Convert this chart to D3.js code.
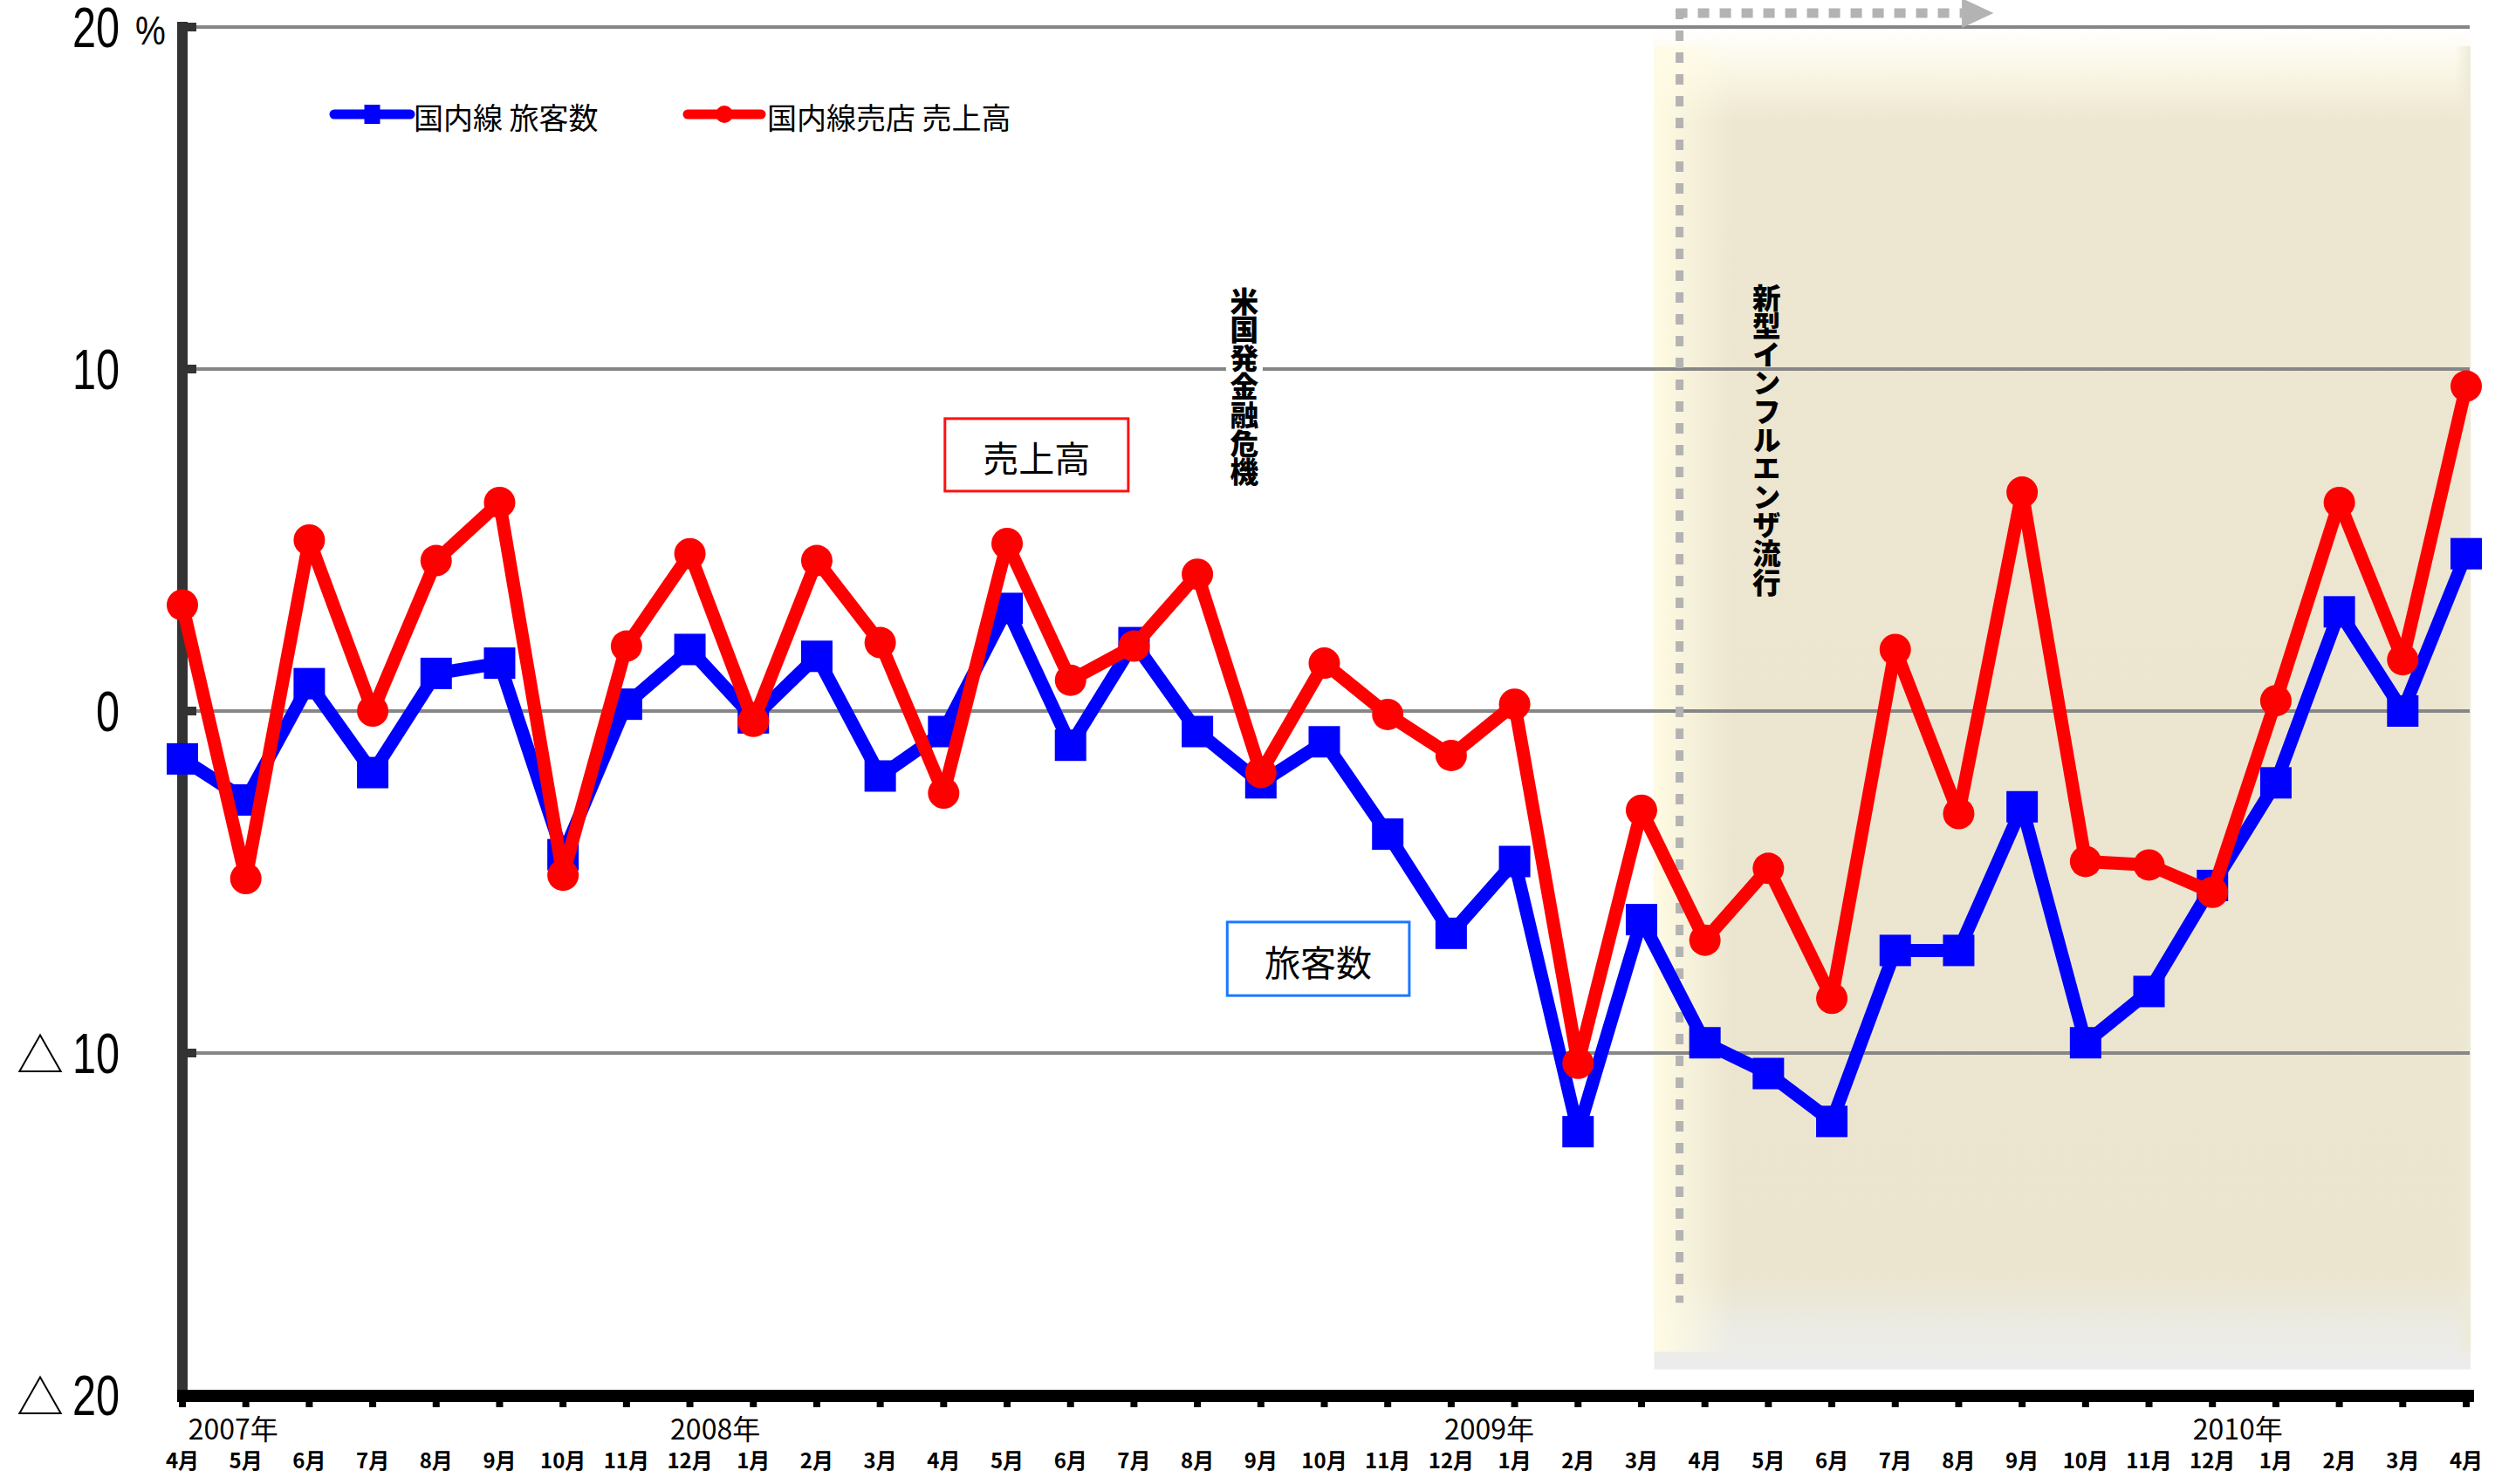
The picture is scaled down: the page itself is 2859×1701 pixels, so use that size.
<!DOCTYPE html>
<html lang="ja">
<head>
<meta charset="utf-8">
<script src="https://cdn.jsdelivr.net/npm/d3@7"></script>
<style>
  html, body { margin: 0; padding: 0; background: #ffffff; }
  svg { display: block; }
</style>
</head>
<body>
<svg id="chart" width="2859" height="1701"></svg>
<script>
// Month labels, April 2007 through April 2010
const months = [
  "4月","5月","6月","7月","8月","9月","10月","11月","12月",
  "1月","2月","3月","4月","5月","6月","7月","8月","9月","10月","11月","12月",
  "1月","2月","3月","4月","5月","6月","7月","8月","9月","10月","11月","12月",
  "1月","2月","3月","4月"
];

// Year-on-year change (%) : domestic passengers
const passengers = [
  -1.4, -2.6, 0.8, -1.8, 1.1, 1.4, -4.2, 0.2, 1.8,
  -0.2, 1.6, -1.9, -0.6, 3.0, -1.0, 2.0, -0.6, -2.1, -0.9, -3.6, -6.5,
  -4.4, -12.3, -6.1, -9.7, -10.6, -12.0, -7.0, -7.0, -2.8, -9.7, -8.2, -5.1,
  -2.1, 2.9, 0.0, 4.6
];

// Year-on-year change (%) : domestic shop sales
const sales = [
  3.1, -4.9, 5.0, 0.0, 4.4, 6.1, -4.8, 1.9, 4.6,
  -0.3, 4.4, 2.0, -2.4, 4.9, 0.9, 1.9, 4.0, -1.8, 1.4, -0.1, -1.3,
  0.2, -10.3, -2.9, -6.7, -4.6, -8.4, 1.8, -3.0, 6.4, -4.4, -4.5, -5.3,
  0.3, 6.1, 1.5, 9.5
];

const yTicks = [20, 10, 0, -10, -20];
const yTickLabels = ["20", "10", "0", "△10", "△20"];

const years = ["2007年", "2008年", "2009年", "2010年"];
const yearAt = [0.8, 8.4, 20.6, 32.4];   // month-index position of each year label

const seriesNames = ["国内線 旅客数", "国内線売店 売上高"];
const events = ["米国発金融危機", "新型インフルエンザ流行"];

const svg = d3.select("#chart");

const x = d3.scaleLinear().domain([0, months.length - 1]).range([209, 2826]);
const y = d3.scaleLinear().domain([-20, 20]).range([1599, 31]);

const BLUE = "#0000ff", RED = "#ff0000";
const numFont = "'Liberation Sans', Arial, sans-serif";
const jpFont = "'Noto Sans CJK JP', sans-serif";

// ---- shaded period (influenza) ----
const defs = svg.append("defs");
const vg = defs.append("linearGradient").attr("id", "shadeV").attr("x1", 0).attr("x2", 0).attr("y1", 0).attr("y2", 1);
[[0, "#ffffff"], [0.03, "#fbf7e6"], [0.07, "#ede6d0"], [0.93, "#ebe5cf"], [0.965, "#ecebe2"], [1, "#ececec"]]
  .forEach(([o, c]) => vg.append("stop").attr("offset", o).attr("stop-color", c));
const hg = defs.append("linearGradient").attr("id", "shadeL").attr("x1", 0).attr("x2", 1).attr("y1", 0).attr("y2", 0);
hg.append("stop").attr("offset", 0).attr("stop-color", "#fffbe3").attr("stop-opacity", 1);
hg.append("stop").attr("offset", 1).attr("stop-color", "#fffbe3").attr("stop-opacity", 0);
const hr = defs.append("linearGradient").attr("id", "shadeR").attr("x1", 0).attr("x2", 1).attr("y1", 0).attr("y2", 0);
hr.append("stop").attr("offset", 0).attr("stop-color", "#eeead8").attr("stop-opacity", 0);
hr.append("stop").attr("offset", 1).attr("stop-color", "#eeead8").attr("stop-opacity", 1);

const shadeX0 = x(23.2), shadeX1 = x(36.07);
const shadeY0 = y(19.95), shadeY1 = y(-19.25);
svg.append("rect").attr("x", shadeX0).attr("y", shadeY0)
  .attr("width", shadeX1 - shadeX0).attr("height", shadeY1 - shadeY0).attr("fill", "url(#shadeV)");
svg.append("rect").attr("x", shadeX0).attr("y", shadeY0 + 20)
  .attr("width", 90).attr("height", shadeY1 - shadeY0 - 40).attr("fill", "url(#shadeL)");
svg.append("rect").attr("x", shadeX1 - 18).attr("y", shadeY0 + 20)
  .attr("width", 18).attr("height", shadeY1 - shadeY0 - 40).attr("fill", "url(#shadeR)");

// ---- gridlines ----
svg.append("g").selectAll("line").data(yTicks).join("line")
  .attr("x1", x(0) + 6).attr("x2", x(36) + 4)
  .attr("y1", d => y(d)).attr("y2", d => y(d))
  .attr("stroke", "#868686").attr("stroke-width", 4);

// ---- dashed marker for start of the influenza period ----
const dashX = x(23.6);
svg.append("line").attr("x1", dashX).attr("x2", dashX)
  .attr("y1", 10).attr("y2", y(-17.3))
  .attr("stroke", "#b3b3b3").attr("stroke-width", 9).attr("stroke-dasharray", "12 13");
svg.append("line").attr("x1", dashX - 4).attr("x2", x(28.05))
  .attr("y1", 15).attr("y2", 15)
  .attr("stroke", "#b3b3b3").attr("stroke-width", 11).attr("stroke-dasharray", "13 12");
svg.append("path")
  .attr("d", `M${x(28.05)},-2 L${x(28.55)},15 L${x(28.05)},32 Z`)
  .attr("fill", "#b3b3b3");

// ---- event labels (vertical) ----
function verticalText(str, cx, top, size) {
  return svg.append("text")
    .attr("x", cx).attr("y", top)
    .style("writing-mode", "vertical-rl")
    .style("text-orientation", "upright")
    .attr("font-family", jpFont).attr("font-weight", 900)
    .attr("font-size", size).attr("fill", "#000")
    .text(str);
}
const ev1x = x(16.74), ev1top = y(12.4);
svg.append("rect").attr("x", ev1x - 21).attr("y", ev1top - 4)
  .attr("width", 42).attr("height", events[0].length * 32.6 + 8).attr("fill", "#ffffff");
verticalText(events[0], ev1x, ev1top, 32.6);
verticalText(events[1], x(24.97), y(12.5), 32.6);

// ---- annotation boxes ----
function labelBox(text, i0, i1, v0, v1, color) {
  svg.append("rect")
    .attr("x", x(i0)).attr("y", y(v0))
    .attr("width", x(i1) - x(i0)).attr("height", y(v1) - y(v0))
    .attr("fill", "#ffffff").attr("stroke", color).attr("stroke-width", 3);
  svg.append("text")
    .attr("x", (x(i0) + x(i1)) / 2).attr("y", (y(v0) + y(v1)) / 2 + 2)
    .attr("text-anchor", "middle").attr("dominant-baseline", "central")
    .attr("font-family", jpFont).attr("font-size", 41).attr("fill", "#000")
    .text(text);
}
labelBox("売上高", 12.02, 14.91, 8.55, 6.43, "#ff1010");
labelBox("旅客数", 16.47, 19.34, -6.17, -8.32, "#1a78ff");

// ---- y axis ----
svg.append("line").attr("x1", x(0)).attr("x2", x(0))
  .attr("y1", y(20) - 6).attr("y2", y(-20))
  .attr("stroke", "#333333").attr("stroke-width", 12);
svg.append("g").selectAll("rect").data(yTicks).join("rect")
  .attr("x", x(0)).attr("y", d => y(d) - 5)
  .attr("width", 16).attr("height", 10).attr("fill", "#333333");

// tick labels: condensed digits, with the △ (negative) sign set apart
const labelRight = 137;
yTicks.forEach((v, i) => {
  const lab = yTickLabels[i];
  const neg = lab.startsWith("△");
  const digits = neg ? lab.slice(1) : lab;
  const base = y(v) + 23;
  const t = svg.append("text")
    .attr("transform", `translate(${labelRight},${base}) scale(0.76,1)`)
    .attr("text-anchor", "end")
    .attr("font-family", numFont).attr("font-size", 64).attr("fill", "#000")
    .text(digits);
  const w = t.node().getComputedTextLength() * 0.76;
  if (neg) {
    svg.append("text")
      .attr("x", labelRight - w - 10).attr("y", base)
      .attr("text-anchor", "end")
      .attr("font-family", jpFont).attr("font-size", 54).attr("fill", "#000")
      .text("△");
  }
});
svg.append("text")
  .attr("transform", `translate(155,${y(20) + 20}) scale(0.85,1)`)
  .attr("font-family", numFont).attr("font-size", 46).attr("fill", "#000")
  .text("%");

// ---- x axis ----
svg.append("line").attr("x1", x(0) - 6).attr("x2", x(36) + 9)
  .attr("y1", y(-20) + 1).attr("y2", y(-20) + 1)
  .attr("stroke", "#000000").attr("stroke-width", 14);
svg.append("g").selectAll("rect").data(months).join("rect")
  .attr("x", (d, i) => x(i) - 4).attr("y", y(-20) + 6)
  .attr("width", 8).attr("height", 8).attr("fill", "#000");
svg.append("g").selectAll("text").data(months).join("text")
  .attr("x", (d, i) => x(i)).attr("y", 1672)
  .attr("text-anchor", "middle").attr("dominant-baseline", "central")
  .attr("font-family", jpFont).attr("font-weight", 700)
  .attr("font-size", 24).attr("fill", "#000")
  .text(d => d);
svg.append("g").selectAll("text").data(years).join("text")
  .attr("x", (d, i) => x(yearAt[i])).attr("y", 1636)
  .attr("text-anchor", "middle").attr("dominant-baseline", "central")
  .attr("font-family", jpFont).attr("font-size", 32).attr("fill", "#000")
  .text(d => d);

// ---- series ----
const line = d3.line().x((d, i) => x(i)).y(d => y(d));

svg.append("path").datum(passengers).attr("d", line)
  .attr("fill", "none").attr("stroke", BLUE).attr("stroke-width", 15)
  .attr("stroke-linejoin", "round");
svg.append("g").selectAll("rect").data(passengers).join("rect")
  .attr("x", (d, i) => x(i) - 18).attr("y", d => y(d) - 18)
  .attr("width", 36).attr("height", 36).attr("fill", BLUE);

svg.append("path").datum(sales).attr("d", line)
  .attr("fill", "none").attr("stroke", RED).attr("stroke-width", 15)
  .attr("stroke-linejoin", "round");
svg.append("g").selectAll("circle").data(sales).join("circle")
  .attr("cx", (d, i) => x(i)).attr("cy", d => y(d))
  .attr("r", 18).attr("fill", RED);

// ---- legend ----
const legend = svg.append("g").attr("transform", "translate(0,131)");
const legendItems = [
  { name: seriesNames[0], color: BLUE, shape: "square", x0: 383, x1: 470, tx: 474 },
  { name: seriesNames[1], color: RED, shape: "circle", x0: 788, x1: 872, tx: 879 }
];
legendItems.forEach(it => {
  legend.append("line").attr("x1", it.x0).attr("x2", it.x1)
    .attr("stroke", it.color).attr("stroke-width", 11).attr("stroke-linecap", "round");
  const mx = (it.x0 + it.x1) / 2;
  if (it.shape === "square") {
    legend.append("rect").attr("x", mx - 9).attr("y", -11).attr("width", 18).attr("height", 22).attr("fill", it.color);
  } else {
    legend.append("circle").attr("cx", mx).attr("cy", 0).attr("r", 10).attr("fill", it.color);
  }
  legend.append("text").attr("x", it.tx).attr("y", 2)
    .attr("dominant-baseline", "central")
    .attr("font-family", jpFont).attr("font-size", 34).attr("fill", "#000")
    .text(it.name);
});
</script>
</body>
</html>
